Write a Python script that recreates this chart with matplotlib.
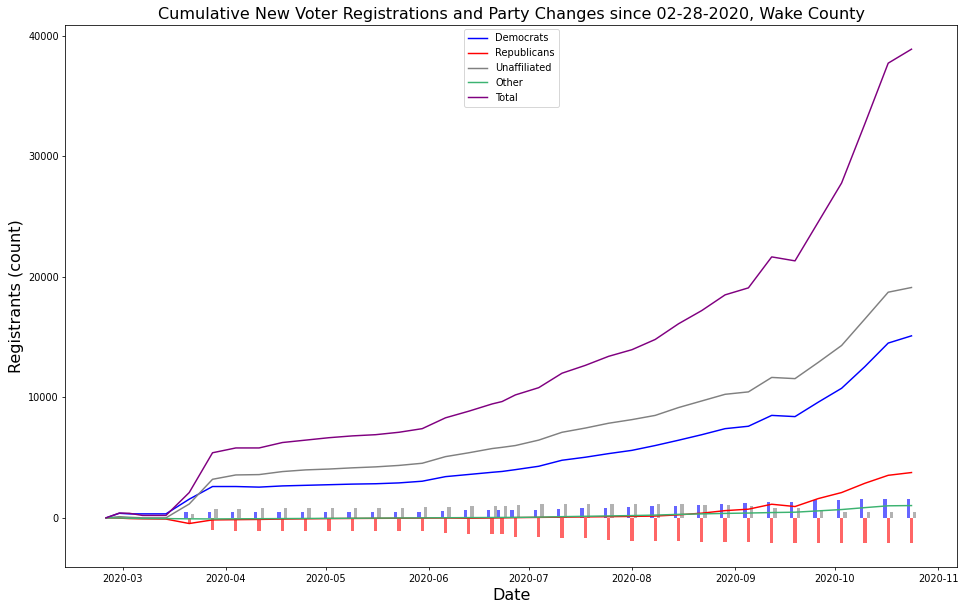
import matplotlib
matplotlib.use("Agg")
import matplotlib.pyplot as plt
import pandas as pd

dates = ['2020-02-25', '2020-02-29', '2020-03-03', '2020-03-07', '2020-03-14',
         '2020-03-21', '2020-03-28', '2020-04-04', '2020-04-11', '2020-04-18',
         '2020-04-25', '2020-05-02', '2020-05-09', '2020-05-16', '2020-05-23',
         '2020-05-30', '2020-06-06', '2020-06-13', '2020-06-20', '2020-06-23',
         '2020-06-27', '2020-07-04', '2020-07-11', '2020-07-18', '2020-07-25',
         '2020-08-01', '2020-08-08', '2020-08-15', '2020-08-22', '2020-08-29',
         '2020-09-05', '2020-09-12', '2020-09-19', '2020-09-26', '2020-10-03',
         '2020-10-10', '2020-10-17', '2020-10-24']

democrats = [0, 380, 330, 330, 330, 1550, 2600, 2600, 2550, 2650, 2700, 2750, 2800,
             2830, 2900, 3040, 3420, 3600, 3780, 3850, 4000, 4280, 4780, 5030, 5330,
             5600, 6000, 6440, 6900, 7400, 7600, 8500, 8400, 9600, 10750, 12550,
             14500, 15100]
republicans = [0, -20, -60, -80, -100, -470, -170, -150, -130, -100, -80, -60, -50,
               -40, -30, -20, -10, -30, -10, 0, 20, 40, 60, 80, 100, 120, 150, 250,
               390, 600, 720, 1130, 940, 1600, 2100, 2870, 3530, 3760]
unaffiliated = [0, 100, 50, 0, 0, 1150, 3200, 3560, 3590, 3840, 3980, 4050, 4150,
                4230, 4350, 4530, 5080, 5400, 5750, 5850, 6000, 6450, 7100, 7450, 7850,
                8150, 8500, 9150, 9700, 10250, 10450, 11650, 11550, 12900, 14300,
                16500, 18720, 19110]
other = [0, -10, -30, -50, -60, -80, -90, -80, -70, -60, -50, -40, -30, -20, -10, 0,
         10, 20, 30, 35, 40, 60, 100, 130, 160, 190, 230, 290, 330, 370, 400, 440,
         470, 580, 690, 850, 1000, 1020]
total = [0, 400, 380, 200, 200, 2100, 5400, 5800, 5800, 6250, 6450, 6650, 6800, 6900,
         7100, 7400, 8300, 8850, 9450, 9650, 10200, 10800, 12000, 12650, 13400, 13950,
         14800, 16100, 17200, 18500, 19080, 21650, 21320, 24550, 27780, 32700, 37720,
         38880]

# party changes (bars), reported from 2020-03-21 onward
change_dates = dates[5:]
chg_dem = [500, 500, 500, 500, 500, 500, 500, 500, 500, 500, 500, 580,
           660, 660, 660, 660, 660, 750, 830, 830, 910, 990, 990, 1080, 1160, 1240,
           1330, 1330, 1450, 1500, 1530, 1550, 1550]
chg_rep = [-470, -970, -1050, -1050, -1050, -1050, -1050, -1050, -1130,
           -1130, -1130, -1220, -1380, -1380, -1380, -1550, -1550, -1710, -1710, -1800,
           -1880, -1960, -1960, -2040, -2040, -2040, -2050, -2050, -2060, -2070, -2070,
           -2070, -2070]
chg_una = [330, 750, 750, 830, 830, 830, 830, 830, 830, 830, 910, 910,
           990, 990, 990, 1080, 1160, 1160, 1160, 1160, 1160, 1160, 1160, 1080, 1080,
           990, 830, 830, 550, 500, 500, 500, 500]

d = pd.to_datetime(dates)
dc = pd.to_datetime(change_dates)
one_day = pd.Timedelta(days=1)

DPI = 70
fig = plt.figure(figsize=(966 / DPI, 611 / DPI), dpi=DPI)
ax = fig.add_axes([0.0678, 0.0712, 0.9907 - 0.0678, 0.9599 - 0.0712])

ax.bar(dc - one_day, chg_dem, width=1, color='blue', alpha=0.6)
ax.bar(dc, chg_rep, width=1, color='red', alpha=0.6)
ax.bar(dc + one_day, chg_una, width=1, color='gray', alpha=0.6)

ax.plot(d, democrats, color='blue', label='Democrats')
ax.plot(d, republicans, color='red', label='Republicans')
ax.plot(d, unaffiliated, color='gray', label='Unaffiliated')
ax.plot(d, other, color='mediumseagreen', label='Other')
ax.plot(d, total, color='purple', label='Total')

ax.set_title('Cumulative New Voter Registrations and Party Changes since 02-28-2020, Wake County',
             fontsize=16.5)
ax.set_xlabel('Date', fontsize=16.5)
ax.set_ylabel('Registrants (count)', fontsize=16.5)
ax.legend(loc='upper center')

fig.savefig('out.png', dpi=DPI)
